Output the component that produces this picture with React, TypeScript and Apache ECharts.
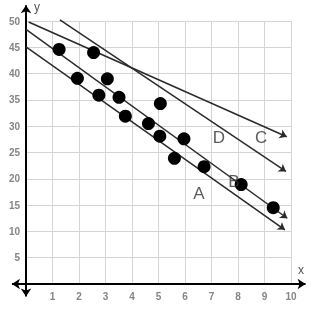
import React, { useEffect, useRef } from "react";
import * as echarts from "echarts";

const xTicks = [1, 2, 3, 4, 5, 6, 7, 8, 9, 10];
const yTicks = [5, 10, 15, 20, 25, 30, 35, 40, 45, 50];

const points: [number, number][] = [
  [1.25, 44.6], [2.55, 44.0], [1.94, 39.1], [3.07, 39.0], [2.75, 35.9],
  [3.51, 35.5], [3.75, 31.9], [4.62, 30.5], [5.07, 34.3], [5.05, 28.1],
  [5.96, 27.6], [5.6, 23.9], [6.72, 22.3], [8.12, 18.9], [9.33, 14.5],
];

const lineNames = ["A", "B", "D", "C"];
const lineStarts: [number, number][] = [[0, 45.1], [0, 48.4], [1.28, 50.2], [0.1, 49.8]];
const lineEnds: [number, number][] = [[9.77, 10.3], [9.86, 12.5], [9.81, 21.4], [9.84, 28.0]];

const letterLabels = ["A", "B", "C", "D"];
const letterPos: [number, number][] = [[6.53, 17.3], [7.85, 19.4], [8.87, 27.9], [7.28, 27.8]];

const xAxisEnds: [number, number][] = [[-0.53, 0], [10.55, 0]];
const yAxisEnds: [number, number][] = [[0, -2.4], [0, 53]];

export default function App() {
  const ref = useRef<HTMLDivElement>(null);
  useEffect(() => {
    if (!ref.current) return;
    const chart = echarts.init(ref.current, undefined, { renderer: "svg" });
    const tickFont = { color: "#858585", fontWeight: "bold" as const, fontSize: 10, fontFamily: "Liberation Sans" };
    chart.setOption({
      animation: false,
      grid: { left: 26, top: 21, width: 265, height: 263 },
      xAxis: {
        type: "value", min: 0, max: 10, interval: 1,
        axisLine: { show: false }, axisTick: { show: false },
        splitLine: { show: true, lineStyle: { color: "#d4d4d4", width: 1 } },
        axisLabel: { ...tickFont, margin: 7, formatter: (v: number) => (xTicks.includes(v) ? String(v) : "") },
      },
      yAxis: {
        type: "value", min: 0, max: 50, interval: 5,
        axisLine: { show: false }, axisTick: { show: false },
        splitLine: { show: true, lineStyle: { color: "#d4d4d4", width: 1 } },
        axisLabel: { ...tickFont, margin: 6, formatter: (v: number) => (yTicks.includes(v) ? String(v) : "") },
      },
      graphic: [
        { type: "text", left: 34, top: 1, style: { text: "y", fontSize: 12, fontFamily: "Liberation Sans", fill: "#555" } },
        { type: "text", left: 298, top: 264, style: { text: "x", fontSize: 12, fontFamily: "Liberation Sans", fill: "#555" } },
      ],
      series: [
        {
          type: "lines", coordinateSystem: "cartesian2d", clip: false, silent: true,
          symbol: ["arrow", "arrow"], symbolSize: 8,
          lineStyle: { color: "#000", width: 2, opacity: 1 },
          data: [{ coords: xAxisEnds }, { coords: yAxisEnds }],
          z: 3,
        },
        {
          type: "lines", coordinateSystem: "cartesian2d", clip: false, silent: true,
          symbol: ["none", "arrow"], symbolSize: 7,
          lineStyle: { color: "#2a2a2a", width: 1.5, opacity: 1 },
          data: lineNames.map((n, i) => ({ name: n, coords: [lineStarts[i], lineEnds[i]] })),
          z: 4,
        },
        {
          type: "scatter", symbolSize: 13, itemStyle: { color: "#000", opacity: 1 },
          data: points, z: 5, clip: false,
        },
        {
          type: "scatter", symbolSize: 0, z: 6,
          data: letterPos.map((p, i) => ({ value: p, name: letterLabels[i] })),
          label: {
            show: true, position: "inside", formatter: (p: any) => p.name,
            fontSize: 17, color: "#333", fontFamily: "Liberation Sans",
          },
        },
      ],
    });
    return () => chart.dispose();
  }, []);
  return <div ref={ref} style={{ position: "fixed", left: 0, top: 0, width: 320, height: 314 }} />;
}
